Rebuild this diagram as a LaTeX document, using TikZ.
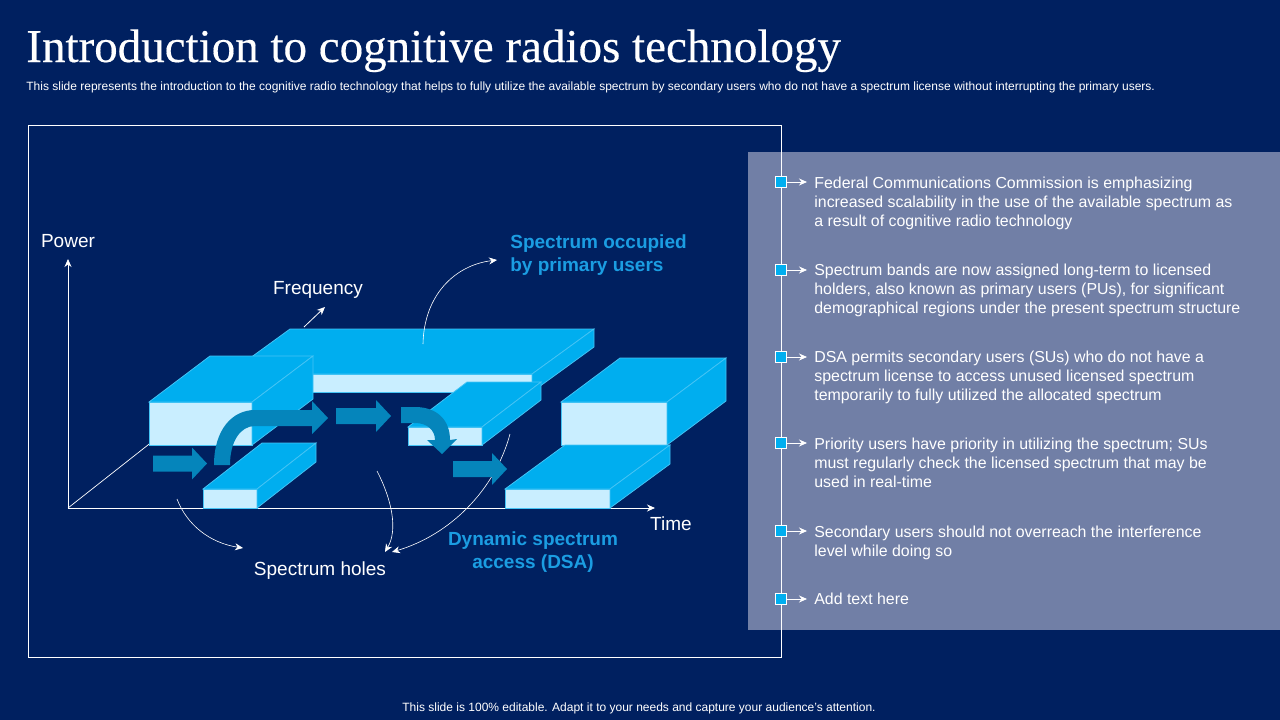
\documentclass[tikz,border=0pt]{standalone}
\usepackage{fontspec}
\usetikzlibrary{arrows.meta}
\setmainfont{Liberation Sans}
\newfontfamily\titlefont[FakeBold=0.35]{Liberation Serif}
\definecolor{slidebg}{HTML}{002060}
\definecolor{panelbg}{HTML}{717FA6}
\definecolor{slabtop}{HTML}{00AEEF}
\definecolor{slabfront}{HTML}{C9EEFF}
\definecolor{slabedge}{HTML}{45C4F5}
\definecolor{flowcol}{HTML}{0585BB}
\definecolor{labelblue}{HTML}{1B9DE2}
\tikzset{every picture/.style={line width=0.75pt}}
\tikzset{
	whitelabel/.style={text=white,inner sep=0pt,font=\fontsize{19}{23}\selectfont,align=center},
	bluelabel/.style={text=labelblue,inner sep=0pt,font=\fontsize{19}{23}\selectfont\bfseries},
	bodytext/.style={text=white,inner sep=0pt,anchor=north west,align=left,font=\fontsize{15.9}{19}\selectfont},
	thinarrow/.style={-{Stealth[length=8pt,width=7pt]},white,line width=0.8pt},
	flowarrow/.style={fill=flowcol,draw=none},
	bulletbox/.style={draw=white,fill=slabtop,line width=0.8pt,minimum size=11pt,inner sep=0pt},
}
% x1,x2 front face, y1,y2 front top and bottom, x and y shift to the back
\newcommand{\slab}[6]{
	\draw[slabedge,fill=slabfront] (#1,#3) rectangle (#2,#4);
	\draw[slabedge,fill=slabtop] (#1,#3)--(#1+#5,#3-#6)--(#2+#5,#3-#6)--(#2,#3)--cycle;
	\draw[slabedge,fill=slabtop] (#2,#3)--(#2+#5,#3-#6)--(#2+#5,#4-#6)--(#2,#4)--cycle;
}
% straight block arrow: x start, x head base, x tip, y centre
\newcommand{\flowright}[4]{
	\fill[flowarrow] (#1,#4-8)--(#2,#4-8)--(#2,#4-16)--(#3,#4)--(#2,#4+16)--(#2,#4+8)--(#1,#4+8)--cycle;
}
\begin{document}
\begin{tikzpicture}[x=1pt,y=-1pt]
	\useasboundingbox (0,0) rectangle (1280,720);
	\fill[slidebg] (0,0) rectangle (1280,720);
	\node[text=white,inner sep=0pt,anchor=base west,font=\titlefont\fontsize{47}{50}\selectfont] (title) at (26,62) {Introduction to cognitive radios technology};
	\node[text=white,inner sep=0pt,anchor=base west,font=\fontsize{12}{14}\selectfont] (subtitle) at (26,90.5) {This slide represents the introduction to the cognitive radio technology that helps to fully utilize the available spectrum by secondary users who do not have a spectrum license without interrupting the primary users.};
	\fill[panelbg] (748,152) rectangle (1280,630); %panel
	\draw[white] (28.5,125.5) rectangle (781.5,657); %frame
	% axes
	\coordinate (origin) at (68,508);
	\coordinate (powertip) at (68,259);
	\coordinate (timetip) at (655,508);
	\coordinate (diagend) at (200,404);
	\coordinate (freqstart) at (304,327);
	\coordinate (freqtip) at (325,307);
	\draw[thinarrow] (origin)--(powertip);
	\draw[thinarrow] (origin)--(timetip);
	\draw[white,line width=0.7pt] (origin)--(diagend);
	\draw[thinarrow] (freqstart)--(freqtip);
	\node[whitelabel] (power) at (68,241) {Power};
	\node[whitelabel] (frequency) at (318,290) {Frequency};
	\node[whitelabel] (time) at (671,524) {Time};
	\node[whitelabel] (holes) at (320,571) {Spectrum holes};
	\node[bluelabel,anchor=west,align=left] (occupied) at (510,255) {Spectrum occupied\\by primary users};
	\node[bluelabel,align=center] (dsa) at (533,552) {Dynamic spectrum\\access (DSA)};
	% spectrum slabs
	\slab{228}{532}{374}{392}{62}{45}
	\slab{149}{252}{402}{445}{61}{46}
	\slab{203}{257}{489}{508}{59}{46}
	\slab{408}{482}{427}{445}{59}{45}
	\slab{561}{667}{402}{445}{59}{44}
	\slab{505}{610}{489}{508}{60}{44}
	% curved labels
	\coordinate (occstart) at (423,344);
	\coordinate (occend) at (497,260);
	\coordinate (holeastart) at (177,499);
	\coordinate (holeaend) at (243,548);
	\coordinate (holebstart) at (377,471);
	\coordinate (holebend) at (385,552);
	\coordinate (dsastart) at (510,434);
	\coordinate (dsaend) at (392,552);
	\draw[thinarrow,line width=0.6pt] (occstart) .. controls (424,295) and (455,265) .. (occend);
	\draw[thinarrow,line width=0.6pt] (holeastart) .. controls (187,525) and (210,543) .. (holeaend);
	\draw[thinarrow,line width=0.6pt] (holebstart) .. controls (392,500) and (398,530) .. (holebend);
	\draw[thinarrow,line width=0.6pt] (dsastart) .. controls (495,490) and (450,535) .. (dsaend);
	% flow arrows
	\flowright{153}{192}{207}{463.5}
	\flowright{336}{376}{391}{416}
	\flowright{453}{492}{507}{469}
	\fill[flowarrow] (214,465) .. controls (214,430) and (232,410) .. (255,410)--(312,410)--(312,401)--(328,418)--(312,434)--(312,426)--(255,426) .. controls (240,426) and (230,442) .. (230,465)--cycle;
	\fill[flowarrow] (401,407)--(415,407) .. controls (437,407) and (450,420) .. (450,440)--(457,439)--(442,454)--(427,440)--(435,440) .. controls (435,430) and (427,423) .. (415,423)--(401,423)--cycle;
	% bullets
	\foreach \i/\y in {1/182,2/270,3/357,4/443,5/531,6/599}{
		\node[bulletbox] (bullet\i) at (781,\y) {};
		\coordinate (tip\i) at (807,\y);
		\draw[thinarrow] (bullet\i)--(tip\i);
	}
	\node[bodytext] (item1) at (814,177) {Federal Communications Commission is emphasizing\\increased scalability in the use of the available spectrum as\\a result of cognitive radio technology};
	\node[bodytext] (item2) at (814,264) {Spectrum bands are now assigned long-term to licensed\\holders, also known as primary users (PUs), for significant\\demographical regions under the present spectrum structure};
	\node[bodytext] (item3) at (814,351) {DSA permits secondary users (SUs) who do not have a\\spectrum license to access unused licensed spectrum\\temporarily to fully utilized the allocated spectrum};
	\node[bodytext] (item4) at (814,438) {Priority users have priority in utilizing the spectrum; SUs\\must regularly check the licensed spectrum that may be\\used in real-time};
	\node[bodytext] (item5) at (814,526) {Secondary users should not overreach the interference\\level while doing so};
	\node[bodytext] (item6) at (814,593) {Add text here};
	\node[text=white,inner sep=0pt,font=\fontsize{12}{14}\selectfont] (footer) at (639,708.5) {This slide is 100\% editable. Adapt it to your needs and capture your audience's attention.};
\end{tikzpicture}
\end{document}
